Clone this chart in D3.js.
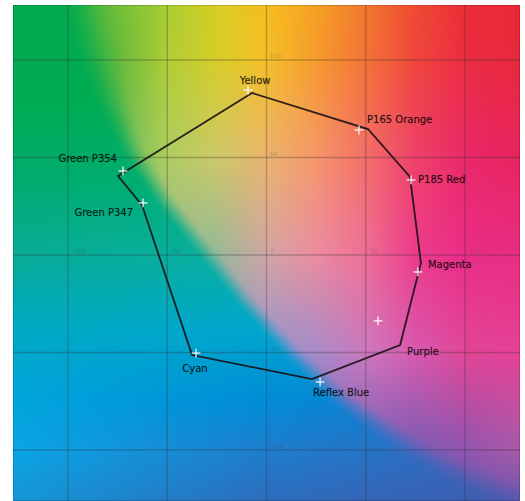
<!DOCTYPE html>
<html><head><meta charset="utf-8">
<script src="https://cdn.jsdelivr.net/npm/d3@7"></script>
<style>body{margin:0;background:#fff;} svg{display:block}</style>
</head><body>
<svg id="chart" width="525" height="501"></svg>
<script>
// ---- data ----
const tickValues = [-100, -50, 0, 50, 100];
const tickLabels = ["-100", "-50", "0", "50", "100"];
// gamut outline (a*, b*)
const gamutA = [-7.3, 51.1, 72.3, 77.8, 67.3, 22.9, -37.5, -62.7, -74.8];
const gamutB = [83.1, 64.6, 40.0, -4.1, -46.2, -63.6, -51.3, 25.6, 40.5];
// measured spot colours (a*, b*)
const spotA = [-9.3, 46.6, 72.8, 76.3, 56.2, 27.0, -35.5, -62.2, -72.3];
const spotB = [84.6, 64.1, 38.5, -8.7, -33.8, -65.1, -50.3, 26.7, 43.1];
// labels and their anchor points (a*, b*)
const labelNames = ["Yellow", "P165 Orange", "P185 Red", "Magenta", "Purple", "Reflex Blue", "Cyan", "Green P347", "Green P354"];
const labelA = [-9.3, 46.6, 72.8, 76.3, 67.3, 27.0, -35.5, -62.2, -72.3];
const labelB = [84.6, 64.1, 38.5, -8.7, -46.2, -65.1, -50.3, 26.7, 43.1];

// ---- layout / style ----
const labelLayout = {
  "Yellow": {dx: 7, dy: -6, anchor: "middle"},
  "P165 Orange": {dx: 8, dy: -7, anchor: "start"},
  "P185 Red": {dx: 7, dy: 3, anchor: "start"},
  "Magenta": {dx: 10, dy: -4, anchor: "start"},
  "Purple": {dx: 7, dy: 10, anchor: "start"},
  "Reflex Blue": {dx: -7, dy: 14, anchor: "start"},
  "Cyan": {dx: -1, dy: 19, anchor: "middle"},
  "Green P347": {dx: -10, dy: 13, anchor: "end"},
  "Green P354": {dx: -6, dy: -9, anchor: "end"}
};
const plot = {left: 13, top: 5, width: 507, height: 496};

// background colour plane palette (pixel-space nodes), style only
const coolX = [13, 267, 520];
const coolY = [5, 100, 180, 255, 330, 400, 450, 501];
const coolC = [
  ["#00aa4e", "#00aa4e", "#00aa4e"],
  ["#00ac52", "#00ac52", "#00ac52"],
  ["#00ac6e", "#00ae72", "#00ae72"],
  ["#08ac96", "#08b0a0", "#08b0a0"],
  ["#00aac3", "#00a6cd", "#00a0d2"],
  ["#00a5dc", "#008cd7", "#1e73c8"],
  ["#0aa5e4", "#1e7dcd", "#3264b9"],
  ["#1496d7", "#2d6cbc", "#415aaf"]
];
const warmX = [13, 117, 167, 217, 267, 316, 366, 415, 465, 520];
const warmY = [5, 60, 157, 255, 353, 450, 501];
const warmC = [
  ["#50b43c", "#6ebe37", "#aacd32", "#d7cd23", "#f5be1e", "#f5a023", "#f2782d", "#ee4b32", "#eb2d37", "#e82837"],
  ["#50b43c", "#64b93c", "#afcd37", "#d7cd28", "#f5be28", "#f59b2d", "#f37337", "#ee463c", "#eb2d41", "#e8283c"],
  ["#64b45a", "#64b95a", "#afcd5f", "#cdc869", "#ebb46e", "#f59669", "#f36e69", "#ee4169", "#eb2869", "#e8235f"],
  ["#96b996", "#96b996", "#96b996", "#96b996", "#d2a5a5", "#eb8ca0", "#ee6e96", "#ec3c8c", "#ea2d87", "#e82d82"],
  ["#9691cd", "#9691cd", "#9691cd", "#9691cd", "#9691cd", "#a58cc8", "#cd78be", "#d75aaf", "#e14696", "#e64196"],
  ["#6e5ab4", "#6e5ab4", "#6e5ab4", "#6e5ab4", "#6e5ab4", "#6e5ab4", "#7860b4", "#7a5cb4", "#9055b0", "#a85aa8"],
  ["#6458aa", "#6458aa", "#6458aa", "#6458aa", "#6458aa", "#6458aa", "#6458aa", "#6458aa", "#6a58aa", "#6e55aa"]
];
// boundary between the cool and warm regions (pixel space) and its softness
const edgeX = [88, 98, 112, 132, 165, 205, 245, 290, 343, 415, 475, 530];
const edgeY = [0, 50, 100, 150, 200, 250, 300, 350, 400, 450, 480, 506];
const edgeSoft = [30, 26, 20, 14, 12, 11, 11, 11, 13, 16, 18, 18];

const svg = d3.select("#chart");
const x = d3.scaleLinear().domain([-100, 100]).range([68, 465]);
const y = d3.scaleLinear().domain([-100, 100]).range([450, 60]);

// ---- paint colour plane ----
function gridSampler(xs, ys, cols) {
  const rgb = cols.map(r => r.map(c => d3.rgb(c)));
  return function(px, py) {
    let i = d3.bisectRight(xs, px) - 1; i = Math.max(0, Math.min(xs.length - 2, i));
    let j = d3.bisectRight(ys, py) - 1; j = Math.max(0, Math.min(ys.length - 2, j));
    const tx = Math.max(0, Math.min(1, (px - xs[i]) / (xs[i + 1] - xs[i])));
    const ty = Math.max(0, Math.min(1, (py - ys[j]) / (ys[j + 1] - ys[j])));
    const c00 = rgb[j][i], c10 = rgb[j][i + 1], c01 = rgb[j + 1][i], c11 = rgb[j + 1][i + 1];
    const f = k => (c00[k] * (1 - tx) + c10[k] * tx) * (1 - ty) + (c01[k] * (1 - tx) + c11[k] * tx) * ty;
    return [f("r"), f("g"), f("b")];
  };
}
const cool = gridSampler(coolX, coolY, coolC);
const warm = gridSampler(warmX, warmY, warmC);
const edgeAt = d3.scaleLinear().domain(edgeY).range(edgeX);
const softAt = d3.scaleLinear().domain(edgeY).range(edgeSoft);
const W = plot.width, H = plot.height;
const cv = document.createElement("canvas");
cv.width = W; cv.height = H;
const ctx = cv.getContext("2d");
const img = ctx.createImageData(W, H);
for (let j = 0; j < H; j++) {
  const py = plot.top + j + 0.5;
  const ex = edgeAt(py);
  const sw = softAt(py);
  const slope = (edgeAt(py + 2) - edgeAt(py - 2)) / 4;
  const norm = Math.sqrt(1 + slope * slope);
  for (let i = 0; i < W; i++) {
    const px = plot.left + i + 0.5;
    const d = (px - ex) / norm;
    let t = Math.max(0, Math.min(1, (d + sw) / (2 * sw)));
    t = t * t * (3 - 2 * t);
    const a = cool(px, py), b = warm(px, py);
    const k = (j * W + i) * 4;
    img.data[k] = a[0] * (1 - t) + b[0] * t;
    img.data[k + 1] = a[1] * (1 - t) + b[1] * t;
    img.data[k + 2] = a[2] * (1 - t) + b[2] * t;
    img.data[k + 3] = 255;
  }
}
ctx.putImageData(img, 0, 0);

svg.append("image")
  .attr("x", plot.left).attr("y", plot.top)
  .attr("width", W).attr("height", H)
  .attr("href", cv.toDataURL());

// ---- grid ----
const g = svg.append("g");
g.selectAll("line.vx").data(tickValues).join("line")
  .attr("x1", d => x(d)).attr("x2", d => x(d))
  .attr("y1", plot.top).attr("y2", plot.top + plot.height)
  .attr("stroke", "#333").attr("stroke-opacity", 0.3).attr("stroke-width", 1.4);
g.selectAll("line.hy").data(tickValues).join("line")
  .attr("y1", d => y(d)).attr("y2", d => y(d))
  .attr("x1", plot.left).attr("x2", plot.left + plot.width)
  .attr("stroke", "#333").attr("stroke-opacity", 0.3).attr("stroke-width", 1.4);
// tick labels
g.selectAll("text.tx").data(tickValues).join("text")
  .attr("x", d => x(d) + 4).attr("y", y(0) - 2)
  .attr("font-family", "DejaVu Sans").attr("font-size", 6)
  .attr("fill", "#444").attr("fill-opacity", 0.35)
  .text((d, i) => tickLabels[i]);
g.selectAll("text.ty").data(tickValues.filter(d => d !== 0)).join("text")
  .attr("x", x(0) + 3).attr("y", d => y(d) - 2)
  .attr("font-family", "DejaVu Sans").attr("font-size", 6)
  .attr("fill", "#444").attr("fill-opacity", 0.35)
  .text(d => tickLabels[tickValues.indexOf(d)]);
svg.append("rect")
  .attr("x", plot.left + 0.5).attr("y", plot.top + 0.5)
  .attr("width", plot.width - 1).attr("height", plot.height - 1)
  .attr("fill", "none").attr("stroke", "#000").attr("stroke-opacity", 0.15);

// ---- gamut outline ----
const pts = gamutA.map((a, i) => [x(a), y(gamutB[i])]);
svg.append("path")
  .attr("d", d3.line().curve(d3.curveLinearClosed)(pts))
  .attr("fill", "none").attr("stroke", "#1a0f14").attr("stroke-opacity", 0.9)
  .attr("stroke-width", 1.8).attr("stroke-linejoin", "miter");

// ---- spot crosses ----
const cs = 4.4;
const crosses = svg.append("g").attr("stroke", "#fff").attr("stroke-opacity", 0.92).attr("stroke-width", 1.3);
spotA.forEach((a, i) => {
  const cx = x(a), cy = y(spotB[i]);
  crosses.append("line").attr("x1", cx - cs).attr("x2", cx + cs).attr("y1", cy).attr("y2", cy);
  crosses.append("line").attr("x1", cx).attr("x2", cx).attr("y1", cy - cs).attr("y2", cy + cs);
});

// ---- labels ----
svg.append("g").selectAll("text").data(labelNames).join("text")
  .attr("x", (d, i) => x(labelA[i]) + labelLayout[d].dx)
  .attr("y", (d, i) => y(labelB[i]) + labelLayout[d].dy)
  .attr("text-anchor", d => labelLayout[d].anchor)
  .attr("font-family", "DejaVu Sans").attr("font-size", 10)
  .attr("fill", "#000").attr("fill-opacity", 0.8)
  .attr("stroke", "#000").attr("stroke-opacity", 0.35).attr("stroke-width", 0.45)
  .text(d => d);
</script>
</body></html>
